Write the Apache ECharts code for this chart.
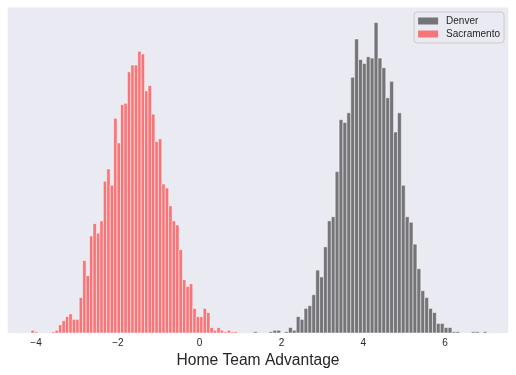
<!DOCTYPE html>
<html>
<head>
<meta charset="utf-8">
<script src="https://cdn.jsdelivr.net/npm/echarts@6/dist/echarts.min.js"></script>
<style>
html,body{margin:0;padding:0;background:#ffffff;}
#chart{width:516px;height:375px;}
</style>
</head>
<body>
<div id="chart"></div>
<script>
// Histogram bin ranges (60 equal bins each, as drawn by the reference)
const denverRange = [1.316, 7.027];
const sacramentoRange = [-4.123, 0.927];
const binCount = 60;

// Bin counts
const denverCounts = [1,0,0,0,1,2,2,0,1,4,2,12,10,18,20,28,46,41,63,82,85,118,156,154,161,187,215,200,197,202,201,227,201,194,172,184,147,161,108,85,81,65,47,31,26,18,15,7,7,4,4,1,1,0,0,0,1,1,0,1];
const sacramentoCounts = [2,1,0,0,0,0,1,2,6,9,12,14,10,10,26,53,42,71,80,73,82,111,120,108,157,139,167,168,191,196,196,206,204,177,181,160,140,142,109,106,93,82,79,61,39,34,36,18,12,12,18,15,4,2,4,2,1,2,1,1];

// Axis
const xTicks = [-4, -2, 0, 2, 4, 6];
const xMin = -4.693, xMax = 7.548;
const yMax = 238;

const seriesNames = ['Denver', 'Sacramento'];
const fills = ['rgba(0,0,0,0.5)', 'rgba(255,0,0,0.5)'];

function binsToData(range, counts) {
  const w = (range[1] - range[0]) / binCount;
  return counts.map((c, i) => [range[0] + i * w, range[0] + (i + 1) * w, c]);
}

function makeRender(fill) {
  return function (params, api) {
    const c = api.value(2);
    if (!c) return null;
    const p0 = api.coord([api.value(0), c]);
    const p1 = api.coord([api.value(1), 0]);
    return {
      type: 'rect',
      shape: { x: p0[0], y: p0[1], width: p1[0] - p0[0], height: p1[1] - p0[1] },
      style: { fill: fill, stroke: 'rgba(255,255,255,0.5)', lineWidth: 1 }
    };
  };
}

const chart = echarts.init(document.getElementById('chart'), null, { renderer: 'canvas' });
chart.setOption({
  animation: false,
  textStyle: { fontFamily: 'Liberation Sans, Arial, sans-serif' },
  grid: {
    left: 7.7, right: 7.7, top: 7.5, bottom: 42,
    show: true, backgroundColor: '#EAEAF2', borderWidth: 0
  },
  legend: {
    data: seriesNames.map((n, i) => ({ name: n, icon: 'rect', itemStyle: { color: fills[i] } })),
    orient: 'vertical',
    right: 12, top: 12,
    itemWidth: 20, itemHeight: 7, itemGap: 3,
    padding: [4, 4, 4, 4],
    backgroundColor: 'rgba(234,234,242,0.8)',
    borderColor: '#cccccc', borderWidth: 1, borderRadius: 3,
    textStyle: { fontSize: 10, color: '#262626', fontFamily: 'Liberation Sans, Arial, sans-serif', padding: [0, 0, 0, 3] },
    selectedMode: false
  },
  xAxis: {
    type: 'value', min: xMin, max: xMax,
    name: 'Home Team Advantage', nameLocation: 'middle', nameGap: 18,
    nameTextStyle: { fontSize: 15.6, color: '#262626', fontFamily: 'Liberation Sans, Arial, sans-serif' },
    axisLine: { show: false }, axisTick: { show: false }, splitLine: { show: false },
    axisLabel: {
      customValues: xTicks, margin: 5, fontSize: 10, color: '#262626',
      formatter: v => (v < 0 ? '\u2212' + Math.abs(v) : String(v))
    }
  },
  yAxis: {
    type: 'value', min: 0, max: yMax,
    axisLine: { show: false }, axisTick: { show: false }, splitLine: { show: false },
    axisLabel: { show: false }
  },
  series: [
    {
      name: seriesNames[0], type: 'custom', renderItem: makeRender(fills[0]),
      itemStyle: { color: fills[0] }, encode: { x: [0, 1], y: 2 },
      data: binsToData(denverRange, denverCounts)
    },
    {
      name: seriesNames[1], type: 'custom', renderItem: makeRender(fills[1]),
      itemStyle: { color: fills[1] }, encode: { x: [0, 1], y: 2 },
      data: binsToData(sacramentoRange, sacramentoCounts)
    }
  ]
});
</script>
</body>
</html>
